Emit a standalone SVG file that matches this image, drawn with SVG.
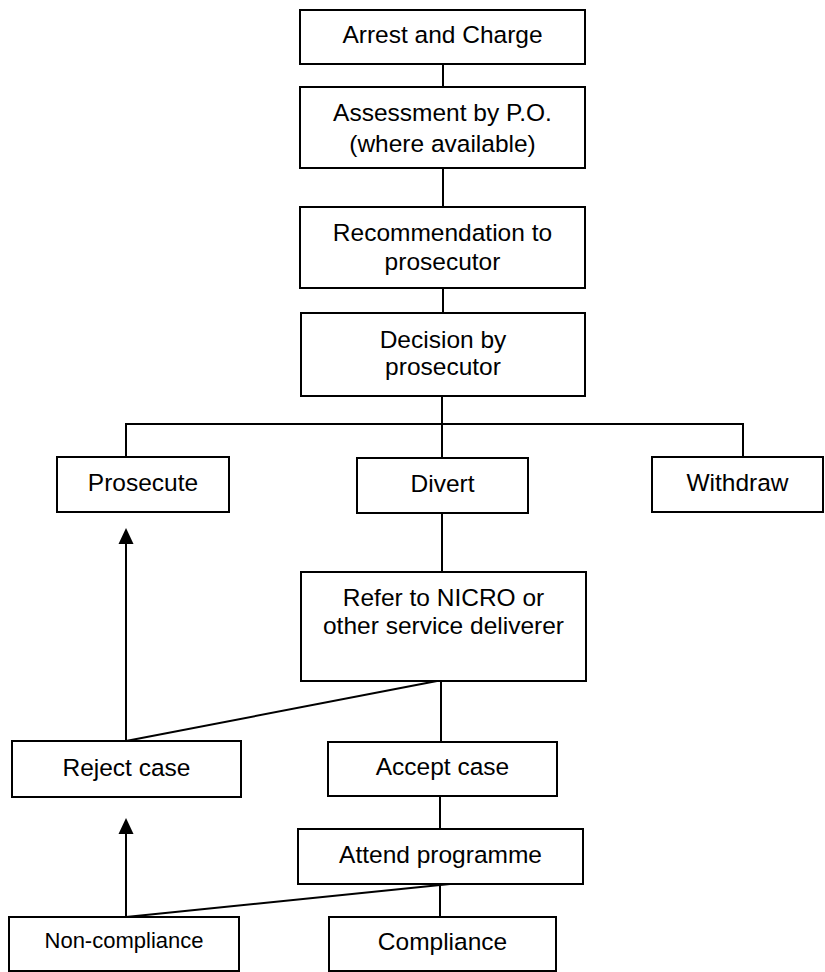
<svg xmlns="http://www.w3.org/2000/svg" width="825" height="972" viewBox="0 0 825 972">
<style>
.box{fill:#fff;stroke:#000;stroke-width:2}
.t{font-family:"Liberation Sans",Arial,sans-serif;font-size:24.5px;text-anchor:middle;fill:#000}
.s{font-size:22px}
.c{fill:none;stroke:#000;stroke-width:2}
</style>
<defs>
<marker id="ah" markerWidth="8" markerHeight="8" refX="7.5" refY="4" orient="auto" markerUnits="userSpaceOnUse" viewBox="0 0 8 8">
<path d="M0,0 L8,4 L0,8 Z" fill="#000"/>
</marker>
</defs>
<rect width="825" height="972" fill="#fff"/>
<g id="connectors">
<line class="c" x1="443" y1="64" x2="443" y2="87"/>
<line class="c" x1="443" y1="168" x2="443" y2="207"/>
<line class="c" x1="443" y1="288" x2="443" y2="313"/>
<line class="c" x1="442" y1="396" x2="442" y2="458"/>
<polyline class="c" points="126,457 126,424 743,424 743,457"/>
<line class="c" x1="442" y1="513" x2="442" y2="572"/>
<line class="c" x1="441" y1="681" x2="441" y2="742"/>
<line class="c" x1="437" y1="681" x2="126" y2="741"/>
<line class="c" x1="440" y1="796" x2="440" y2="829"/>
<line class="c" x1="440" y1="884" x2="440" y2="917"/>
<line class="c" x1="450" y1="884" x2="126" y2="917"/>
<path d="M126,741 L126,543" class="c"/>
<path d="M126,528 L133.5,544 L118.5,544 Z" fill="#000"/>
<path d="M126,917 L126,833" class="c"/>
<path d="M126,818 L133.5,834 L118.5,834 Z" fill="#000"/>
</g>
<g id="arrest"><rect class="box" x="300" y="10" width="285" height="54"/><text class="t" x="442.5" y="43">Arrest and Charge</text></g>
<g id="assessment"><rect class="box" x="300" y="87" width="285" height="81"/><text class="t" x="442.5" y="121">Assessment by P.O.</text><text class="t" x="442.5" y="152">(where available)</text></g>
<g id="recommendation"><rect class="box" x="300" y="207" width="285" height="81"/><text class="t" x="442.5" y="241">Recommendation to</text><text class="t" x="442.5" y="270">prosecutor</text></g>
<g id="decision"><rect class="box" x="301" y="313" width="284" height="83"/><text class="t" x="443" y="348">Decision by</text><text class="t" x="443" y="375">prosecutor</text></g>
<g id="prosecute"><rect class="box" x="57" y="457" width="172" height="55"/><text class="t" x="143" y="491">Prosecute</text></g>
<g id="divert"><rect class="box" x="357" y="458" width="171" height="55"/><text class="t" x="442.5" y="492">Divert</text></g>
<g id="withdraw"><rect class="box" x="652" y="457" width="171" height="55"/><text class="t" x="737.5" y="491">Withdraw</text></g>
<g id="refer"><rect class="box" x="301" y="572" width="285" height="109"/><text class="t" x="443.5" y="606">Refer to NICRO or</text><text class="t" x="443.5" y="634">other service deliverer</text></g>
<g id="reject"><rect class="box" x="12" y="741" width="229" height="56"/><text class="t" x="126.5" y="776">Reject case</text></g>
<g id="accept"><rect class="box" x="328" y="742" width="229" height="54"/><text class="t" x="442.5" y="775">Accept case</text></g>
<g id="attend"><rect class="box" x="298" y="829" width="285" height="55"/><text class="t" x="440.5" y="863">Attend programme</text></g>
<g id="noncompliance"><rect class="box" x="9" y="917" width="230" height="54"/><text class="t s" x="124" y="948">Non-compliance</text></g>
<g id="compliance"><rect class="box" x="329" y="917" width="227" height="54"/><text class="t" x="442.5" y="950">Compliance</text></g>
</svg>
